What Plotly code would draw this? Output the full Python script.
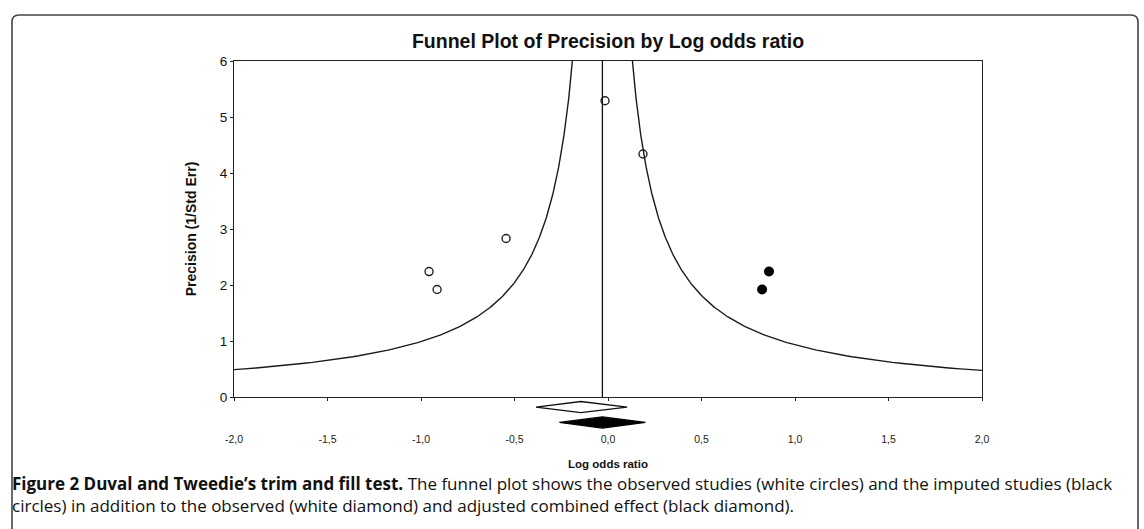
import numpy as np
import plotly.graph_objects as go

# ---- data ----
obs_x = [-0.016, 0.187, -0.545, -0.957, -0.914]
obs_prec = [5.29, 4.34, 2.83, 2.24, 1.92]
imp_x = [0.861, 0.824]
imp_prec = [2.24, 1.92]

mean_line = -0.03          # vertical line / adjusted effect
funnel_k = 0.96            # half-width factor of funnel (x = mean +/- k / precision)

obs_effect, obs_lo, obs_hi = -0.145, -0.385, 0.102
adj_effect, adj_lo, adj_hi = -0.03, -0.26, 0.20
obs_row, adj_row, half_h = -0.18, -0.455, 0.10

x_ticks = [-2.0, -1.5, -1.0, -0.5, 0.0, 0.5, 1.0, 1.5, 2.0]
x_ticklabels = ["-2,0", "-1,5", "-1,0", "-0,5", "0,0", "0,5", "1,0", "1,5", "2,0"]
y_ticks = [0, 1, 2, 3, 4, 5, 6]

# ---- figure ----
W, H = 1144, 529
L, R, T, B = 234, 162, 61, 97
plot_h = H - T - B
split = 35 / plot_h

fig = go.Figure()

p = np.linspace(0.3, 7.0, 400)
fig.add_trace(go.Scatter(x=mean_line - funnel_k / p, y=p, mode="lines",
                         line=dict(color="#1a1a1a", width=1.4), hoverinfo="skip"))
fig.add_trace(go.Scatter(x=mean_line + funnel_k / p, y=p, mode="lines",
                         line=dict(color="#1a1a1a", width=1.4), hoverinfo="skip"))
fig.add_trace(go.Scatter(x=[mean_line, mean_line], y=[0, 6], mode="lines",
                         line=dict(color="#111", width=1.3), hoverinfo="skip"))

fig.add_trace(go.Scatter(x=obs_x, y=obs_prec, mode="markers",
                         marker=dict(symbol="circle-open", size=8, color="#222",
                                     line=dict(width=1.4))))
fig.add_trace(go.Scatter(x=imp_x, y=imp_prec, mode="markers",
                         marker=dict(symbol="circle", size=10, color="#000")))

# diamonds (on the lower strip axis)
fig.add_trace(go.Scatter(
    x=[obs_lo, obs_effect, obs_hi, obs_effect, obs_lo],
    y=[obs_row, obs_row + half_h, obs_row, obs_row - half_h, obs_row],
    mode="lines", fill="toself", fillcolor="white",
    line=dict(color="#111", width=1.3), yaxis="y2", hoverinfo="skip"))
fig.add_trace(go.Scatter(
    x=[adj_lo, adj_effect, adj_hi, adj_effect, adj_lo],
    y=[adj_row, adj_row + half_h, adj_row, adj_row - half_h, adj_row],
    mode="lines", fill="toself", fillcolor="black",
    line=dict(color="#000", width=1.3), yaxis="y2", hoverinfo="skip"))

axis_font = "Liberation Sans, Arial, sans-serif"

fig.update_layout(
    width=W, height=H,
    margin=dict(l=L, r=R, t=T, b=B),
    paper_bgcolor="white", plot_bgcolor="white",
    showlegend=False,
    title=dict(text="<b>Funnel Plot of Precision by Log odds ratio</b>",
               x=0.5, xref="paper", xanchor="center",
               y=1 - 41 / H, yref="container", yanchor="middle",
               font=dict(family=axis_font, size=19.5, color="#111")),
    xaxis=dict(range=[-2, 2], anchor="y", showline=True, linecolor="#222",
               linewidth=1.3, mirror=True, showgrid=False, zeroline=False,
               tickvals=x_ticks, ticktext=x_ticklabels, ticks="outside",
               ticklen=3, tickcolor="#222", ticklabelstandoff=29,
               tickfont=dict(family=axis_font, size=10.5, color="#222"),
               title=dict(text="<b>Log odds ratio</b>", standoff=16,
                          font=dict(family=axis_font, size=11.5, color="#111"))),
    yaxis=dict(range=[0, 6], domain=[split, 1], showline=True, linecolor="#222",
               linewidth=1.3, mirror=True, showgrid=False, zeroline=False,
               tickvals=y_ticks, ticks="outside", ticklen=3, tickcolor="#222",
               tickfont=dict(family=axis_font, size=13.5, color="#111"),
               automargin=True,
               title=dict(text="<b>Precision (1/Std Err)</b>", standoff=19,
                          font=dict(family=axis_font, size=14, color="#111"))),
    yaxis2=dict(range=[-35 / 56, 0], domain=[0, split], anchor="x",
                visible=False, showgrid=False, zeroline=False),
)

# frame (decoration)
def px(xp):
    return (xp - L) / (W - L - R)

def py(yp):
    return (H - B - yp) / plot_h

x0, x1, yt, yb = px(12), px(1138), py(15), py(H + 5)
dx, dy = 7 / (W - L - R), 7 / plot_h
fig.add_shape(type="path", xref="paper", yref="paper",
              path=(f"M {x0},{yb} L {x0},{yt - dy} Q {x0},{yt} {x0 + dx},{yt} "
                    f"L {x1 - dx},{yt} Q {x1},{yt} {x1},{yt - dy} L {x1},{yb}"),
              line=dict(color="#444", width=1.6))

cap_font = dict(family="Open Sans, sans-serif", size=17, color="#111")
fig.add_annotation(xref="paper", yref="paper", x=px(10), y=py(483),
                   xanchor="left", yanchor="middle", showarrow=False, font=cap_font,
                   text=("<b>Figure 2 Duval and Tweedie’s trim and fill test.</b> "
                         "The funnel plot shows the observed studies (white circles) "
                         "and the imputed studies (black"))
fig.add_annotation(xref="paper", yref="paper", x=px(10), y=py(505),
                   xanchor="left", yanchor="middle", showarrow=False, font=cap_font,
                   text=("circles) in addition to the observed (white diamond) and "
                         "adjusted combined effect (black diamond)."))

fig.write_html("out.html", config={"displayModeBar": False},
               post_script="document.body.style.margin='0';document.body.style.overflow='hidden';")
